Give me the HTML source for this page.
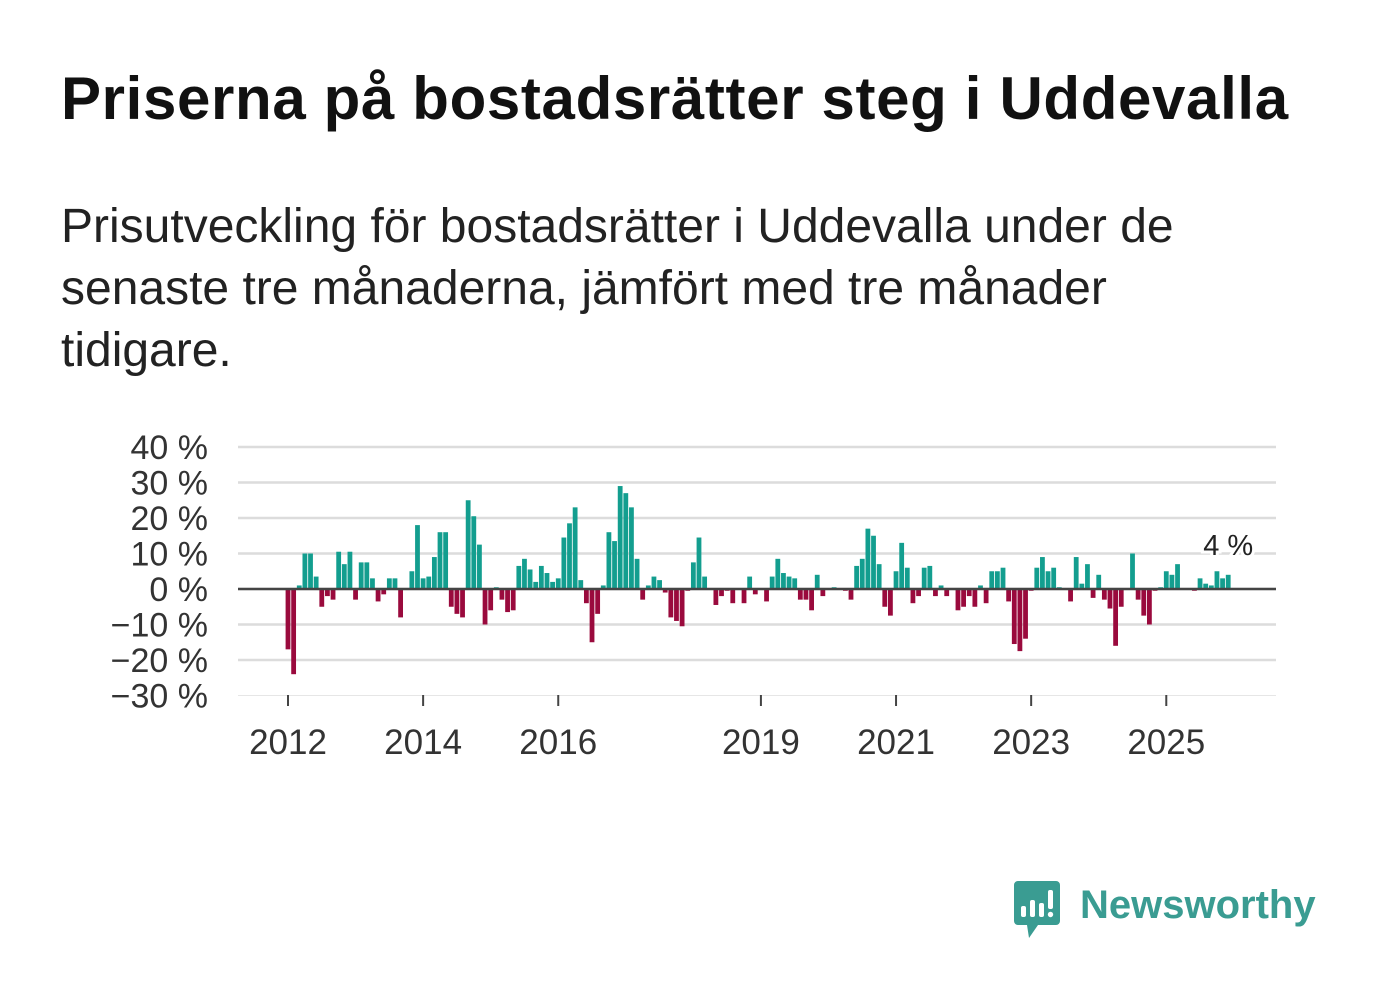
<!DOCTYPE html>
<html><head><meta charset="utf-8"><style>
html,body{margin:0;padding:0;background:#fff;width:1382px;height:999px;overflow:hidden;font-family:"Liberation Sans","DejaVu Sans",sans-serif;color:#111;}
#title{position:absolute;left:61px;top:64px;font-size:60px;font-weight:bold;margin:0;letter-spacing:0.65px;white-space:nowrap;}
#sub{position:absolute;left:61px;top:196px;font-size:48px;line-height:62px;color:#222;margin:0;white-space:nowrap;}
svg{position:absolute;left:0;top:0;}
</style></head><body>
<h1 id="title">Priserna på bostadsrätter steg i Uddevalla</h1>
<p id="sub">Prisutveckling för bostadsrätter i Uddevalla under de<br>senaste tre månaderna, jämfört med tre månader<br>tidigare.</p>
<svg id="chart" width="1382" height="999"></svg>
<script>
const values=[-17,-24,1,10,10,3.5,-5,-2,-3,10.5,7,10.5,-3,7.5,7.5,3,-3.5,-1.5,3,3,-8,0,5,18,3,3.5,9,16,16,-5,-7,-8,25,20.5,12.5,-10,-6,0.5,-3,-6.5,-6,6.5,8.5,5.5,2,6.5,4.5,2,3,14.5,18.5,23,2.5,-4,-15,-7,1,16,13.5,29,27,23,8.5,-3,1,3.5,2.5,-1,-8,-9,-10.5,-0.5,7.5,14.5,3.5,0,-4.5,-2,-0.5,-4,0,-4,3.5,-1.5,0,-3.5,3.5,8.5,4.5,3.5,3,-3,-3,-6,4,-2,0,0.5,0,-0.5,-3,6.5,8.5,17,15,7,-5,-7.5,5,13,6,-4,-2,6,6.5,-2,1,-2,0,-6,-5,-2,-5,1,-4,5,5,6,-3.5,-15.5,-17.5,-14,-0.5,6,9,5,6,0.5,0,-3.5,9,1.5,7,-2.5,4,-3,-5.5,-16,-5,0,10,-3,-7.5,-10,-0.5,0.5,5,4,7,0,0,-0.5,3,1.5,1,5,3,4];
const yTicks=[40,30,20,10,0,-10,-20,-30];
const yearLabels=[2012,2014,2016,2019,2021,2023,2025];
const startYear=2012;
const lastLabel="4 %";
const NS="http://www.w3.org/2000/svg";
const svg=document.getElementById('chart');
const x0=288,step=5.63,yZero=589,pxPer=3.55;
function X(i){return x0+step*i;}
function Y(v){return yZero-v*pxPer;}
function mk(tag,attrs){const e=document.createElementNS(NS,tag);for(const k in attrs)e.setAttribute(k,attrs[k]);svg.appendChild(e);return e;}
yTicks.forEach(t=>{
  const l=mk('line',{x1:238,x2:1276,y1:Y(t),y2:Y(t),stroke:t===-30?'#e6e6e6':'#dcdcdc','stroke-width':t===-30?1:2.5});
  
  
  const tx=mk('text',{x:208,y:Y(t)+12,'text-anchor':'end','font-size':34,fill:'#333','font-family':'Liberation Sans, DejaVu Sans, sans-serif'});
  tx.textContent=(t<0?'\u2212'+(-t):t)+' %';
  
  
});
values.forEach((v,i)=>{
  const y=Math.min(Y(v),yZero),h=Math.abs(Y(v)-yZero);
  const r=mk('rect',{x:X(i)-2.4,y:y,width:4.8,height:h,fill:v>=0?'#139e8f':'#9a0a3d'});
  
  
});
const z=mk('line',{x1:238,x2:1276,y1:yZero,y2:yZero,stroke:'#444','stroke-width':2.5});


yearLabels.forEach(yr=>{
  const xx=X((yr-startYear)*12);
  const t=mk('line',{x1:xx,x2:xx,y1:695,y2:706,stroke:'#444','stroke-width':2});
  
  
  const tx=mk('text',{x:xx,y:754,'text-anchor':'middle','font-size':35,fill:'#333','font-family':'Liberation Sans, DejaVu Sans, sans-serif'});
  tx.textContent=yr;
  
  
});
const li=values.length-1;
const lbl=mk('text',{x:X(li),y:Y(values[li])-20,'text-anchor':'middle','font-size':29,fill:'#222',stroke:'#fff','stroke-width':6,'paint-order':'stroke','font-family':'Liberation Sans, DejaVu Sans, sans-serif'});
lbl.textContent=lastLabel;


</script>
<svg width="1382" height="999" style="pointer-events:none">
  <path d="M1018 881 h38 a4 4 0 0 1 4 4 v36 a4 4 0 0 1 -4 4 h-18 l-9 13 l-2 -13 h-9 a4 4 0 0 1 -4 -4 v-36 a4 4 0 0 1 4 -4z" fill="#3a9c92"/>
  <rect x="1021" y="906" width="5" height="11" rx="2" fill="#fff"/>
  <rect x="1030" y="900" width="5" height="17" rx="2" fill="#fff"/>
  <rect x="1039" y="903" width="5" height="14" rx="2" fill="#fff"/>
  <rect x="1048" y="890" width="5" height="19" rx="2" fill="#fff"/>
  <circle cx="1050.5" cy="914.5" r="2.7" fill="#fff"/>
  <text x="1080" y="918" font-size="40" font-weight="bold" fill="#3a9c92" font-family="Liberation Sans, DejaVu Sans, sans-serif">Newsworthy</text>
</svg>
</body></html>
